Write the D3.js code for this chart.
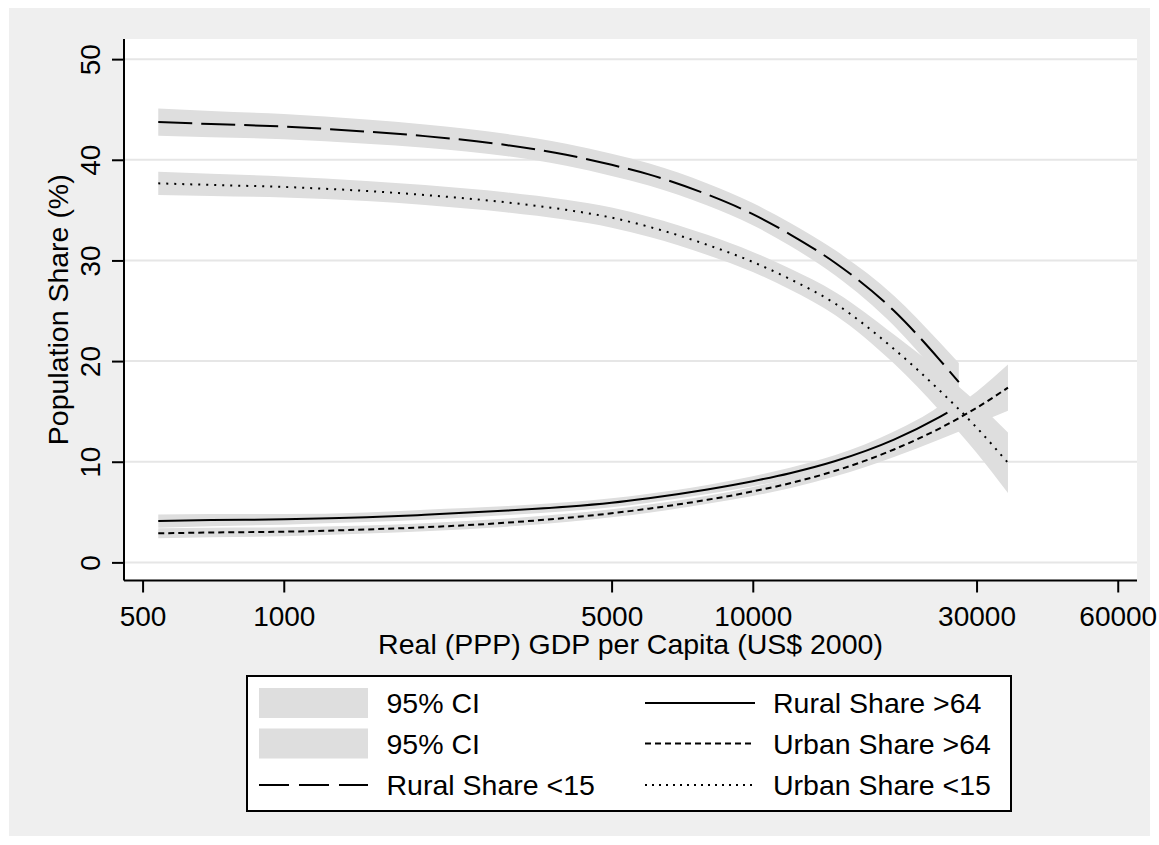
<!DOCTYPE html>
<html>
<head>
<meta charset="utf-8">
<script src="https://cdn.jsdelivr.net/npm/d3@7"></script>
<style>
  html, body { margin: 0; padding: 0; background: #ffffff; }
  svg { display: block; }
  text { font-family: "Liberation Sans", Arial, Helvetica, sans-serif; fill: #000; }
</style>
</head>
<body>
<svg id="chart" width="1159" height="845"></svg>
<script>
// GDP per capita grid for each fitted series (US$ 2000, PPP)
const gdpUrban      = [540, 700, 1000, 1500, 2000, 3000, 4000, 5000, 6000, 8000, 10000, 12000, 15000, 20000, 25000, 30000, 35000];
const gdpRuralYoung = [540, 700, 1000, 1500, 2000, 3000, 4000, 5000, 6000, 8000, 10000, 12000, 15000, 20000, 25000, 27500];
const gdpRuralOld   = [540, 700, 1000, 1500, 2000, 3000, 4000, 5000, 6000, 8000, 10000, 12000, 15000, 20000, 25000, 26000];

// Rural share aged <15 (%), fit and 95% CI
const ruralYoung   = [43.75, 43.55, 43.3, 42.8, 42.35, 41.45, 40.5, 39.5, 38.55, 36.55, 34.6, 32.6, 29.75, 25.0, 20.15, 17.9];
const ruralYoungLo = [42.4, 42.25, 42.05, 41.6, 41.2, 40.35, 39.4, 38.4, 37.45, 35.45, 33.5, 31.45, 28.5, 23.5, 18.4, 16.0];
const ruralYoungHi = [45.1, 44.85, 44.55, 44.0, 43.5, 42.55, 41.6, 40.6, 39.65, 37.65, 35.7, 33.75, 31.0, 26.5, 21.9, 19.8];

// Urban share aged <15 (%)
const urbanYoung   = [37.66, 37.5, 37.3, 36.9, 36.5, 35.76, 35.03, 34.25, 33.35, 31.55, 29.85, 28.15, 25.7, 21.2, 17.1, 13.4, 9.9];
const urbanYoungLo = [36.5, 36.4, 36.25, 35.9, 35.5, 34.76, 34.03, 33.25, 32.35, 30.55, 28.85, 27.1, 24.55, 19.75, 15.1, 10.9, 6.9];
const urbanYoungHi = [38.8, 38.6, 38.35, 37.9, 37.5, 36.76, 36.03, 35.25, 34.35, 32.55, 30.85, 29.2, 26.85, 22.65, 19.1, 15.9, 12.9];

// Rural share aged >64 (%)
const ruralOld   = [4.11, 4.2, 4.28, 4.48, 4.73, 5.15, 5.53, 5.93, 6.38, 7.25, 8.07, 8.86, 10.07, 12.2, 14.43, 14.88];
const ruralOldLo = [3.45, 3.6, 3.75, 4.0, 4.23, 4.7, 5.08, 5.48, 5.93, 6.8, 7.57, 8.31, 9.47, 11.4, 13.33, 13.63];
const ruralOldHi = [4.75, 4.8, 4.8, 4.95, 5.23, 5.6, 5.98, 6.38, 6.83, 7.7, 8.57, 9.41, 10.67, 13.0, 15.53, 16.13];

// Urban share aged >64 (%)
const urbanOld   = [2.89, 2.97, 3.05, 3.27, 3.49, 3.95, 4.42, 4.88, 5.34, 6.22, 7.05, 7.86, 9.1, 11.22, 13.3, 15.35, 17.36];
const urbanOldLo = [2.39, 2.5, 2.6, 2.87, 3.09, 3.55, 4.02, 4.48, 4.94, 5.82, 6.6, 7.36, 8.55, 10.47, 12.2, 13.75, 15.06];
const urbanOldHi = [3.39, 3.45, 3.5, 3.67, 3.89, 4.35, 4.82, 5.28, 5.74, 6.62, 7.5, 8.36, 9.65, 11.97, 14.4, 16.95, 19.66];

// Axis ticks and labels
const xTicks = [500, 1000, 5000, 10000, 30000, 60000];
const yTicks = [0, 10, 20, 30, 40, 50];
const xTitle = "Real (PPP) GDP per Capita (US$ 2000)";
const yTitle = "Population Share (%)";
const legendLeft  = ["95% CI", "95% CI", "Rural Share <15"];
const legendRight = ["Rural Share >64", "Urban Share >64", "Urban Share <15"];

// ---- layout ----
const plot = { left: 124, right: 1137, top: 39, bottom: 580.5 };
const FONT = 28.5;
const BG = "#efefef", CI = "#dedede", GRID = "#e6e6e6";

const svg = d3.select("#chart");

const x = d3.scaleLog().domain([456.4, 65950]).range([plot.left, plot.right]);
const y = d3.scaleLinear().domain([-1.8, 52]).range([plot.bottom, plot.top]);

// graph region and plot region
svg.append("rect").attr("x", 9).attr("y", 8).attr("width", 1141).attr("height", 828).attr("fill", BG);
svg.append("rect").attr("x", plot.left).attr("y", plot.top)
  .attr("width", plot.right - plot.left).attr("height", plot.bottom - plot.top).attr("fill", "#fff");

// horizontal grid
svg.append("g").selectAll("line").data(yTicks).join("line")
  .attr("x1", plot.left).attr("x2", plot.right)
  .attr("y1", d => y(d)).attr("y2", d => y(d))
  .attr("stroke", GRID).attr("stroke-width", 2);

const zip = (xs, a, b) => xs.map((g, i) => ({ g, lo: a[i], hi: b[i] }));
const zipLine = (xs, v) => xs.map((g, i) => ({ g, v: v[i] }));

const area = d3.area().curve(d3.curveMonotoneX)
  .x(d => x(d.g)).y0(d => y(d.lo)).y1(d => y(d.hi));
const line = d3.line().curve(d3.curveMonotoneX)
  .x(d => x(d.g)).y(d => y(d.v));

// confidence bands
const bands = [
  zip(gdpRuralYoung, ruralYoungLo, ruralYoungHi),
  zip(gdpRuralOld, ruralOldLo, ruralOldHi),
  zip(gdpUrban, urbanOldLo, urbanOldHi),
  zip(gdpUrban, urbanYoungLo, urbanYoungHi)
];
svg.append("g").selectAll("path").data(bands).join("path")
  .attr("d", area).attr("fill", CI).attr("stroke", "none");

// fitted lines
const series = [
  { data: zipLine(gdpRuralYoung, ruralYoung), dash: "34,9" },
  { data: zipLine(gdpRuralOld, ruralOld), dash: null },
  { data: zipLine(gdpUrban, urbanOld), dash: "6,4" },
  { data: zipLine(gdpUrban, urbanYoung), dash: "2,6" }
];
svg.append("g").selectAll("path").data(series).join("path")
  .attr("d", d => line(d.data))
  .attr("fill", "none").attr("stroke", "#000").attr("stroke-width", 2)
  .attr("stroke-dasharray", d => d.dash);

// x axis
const gx = svg.append("g").attr("transform", `translate(0,${plot.bottom})`)
  .call(d3.axisBottom(x).tickValues(xTicks).tickFormat(d3.format("d")).tickSize(12).tickSizeOuter(0));
gx.select(".domain").attr("stroke", "#000").attr("stroke-width", 2)
  .attr("d", `M${plot.left},0H${plot.right}`);
gx.selectAll(".tick line").attr("stroke", "#000").attr("stroke-width", 2);
gx.selectAll(".tick text").attr("y", 45).attr("dy", null)
  .style("font-size", "28px").attr("fill", "#000");
gx.attr("font-family", null).attr("font-size", null);

// y axis
const gy = svg.append("g").attr("transform", `translate(${plot.left},0)`)
  .call(d3.axisLeft(y).tickValues(yTicks).tickSize(12).tickSizeOuter(0));
gy.select(".domain").attr("stroke", "#000").attr("stroke-width", 2)
  .attr("d", `M0,${plot.top}V${plot.bottom}`);
gy.selectAll(".tick line").attr("stroke", "#000").attr("stroke-width", 2);
gy.selectAll(".tick text").attr("x", null).attr("dy", null)
  .attr("text-anchor", "middle")
  .attr("transform", "translate(-24.5,0) rotate(-90)")
  .style("font-size", "28px").attr("fill", "#000");
gy.attr("font-family", null).attr("font-size", null);

// axis titles
svg.append("text").attr("x", (plot.left + plot.right) / 2).attr("y", 654)
  .attr("text-anchor", "middle").style("font-size", FONT + "px").text(xTitle);
svg.append("text")
  .attr("transform", `translate(68,${(plot.top + plot.bottom) / 2}) rotate(-90)`)
  .attr("text-anchor", "middle").style("font-size", FONT + "px").text(yTitle);

// legend
const lg = svg.append("g");
lg.append("rect").attr("x", 247).attr("y", 676).attr("width", 764).attr("height", 135)
  .attr("fill", "#fff").attr("stroke", "#000").attr("stroke-width", 2);
const rowBase = [713, 753.5, 795];
const rowMid = [703, 743.5, 785];
// band swatches
[0, 1].forEach(i => {
  lg.append("rect").attr("x", 259).attr("y", rowMid[i] - 15).attr("width", 109).attr("height", 30).attr("fill", CI);
});
// line samples
const sample = (x1, x2, yy, dash) => lg.append("line")
  .attr("x1", x1).attr("x2", x2).attr("y1", yy).attr("y2", yy)
  .attr("stroke", "#000").attr("stroke-width", 2).attr("stroke-dasharray", dash);
sample(259, 368, rowMid[2], "30,10");
sample(645, 755, rowMid[0], null);
sample(645, 755, rowMid[1], "6,4");
sample(645, 755, rowMid[2], "2,5");

lg.selectAll("text.l").data(legendLeft).join("text").attr("class", "l")
  .attr("x", 386.5).attr("y", (d, i) => rowBase[i]).style("font-size", FONT + "px").text(d => d);
lg.selectAll("text.r").data(legendRight).join("text").attr("class", "r")
  .attr("x", 773).attr("y", (d, i) => rowBase[i]).style("font-size", FONT + "px").text(d => d);
</script>
</body>
</html>
